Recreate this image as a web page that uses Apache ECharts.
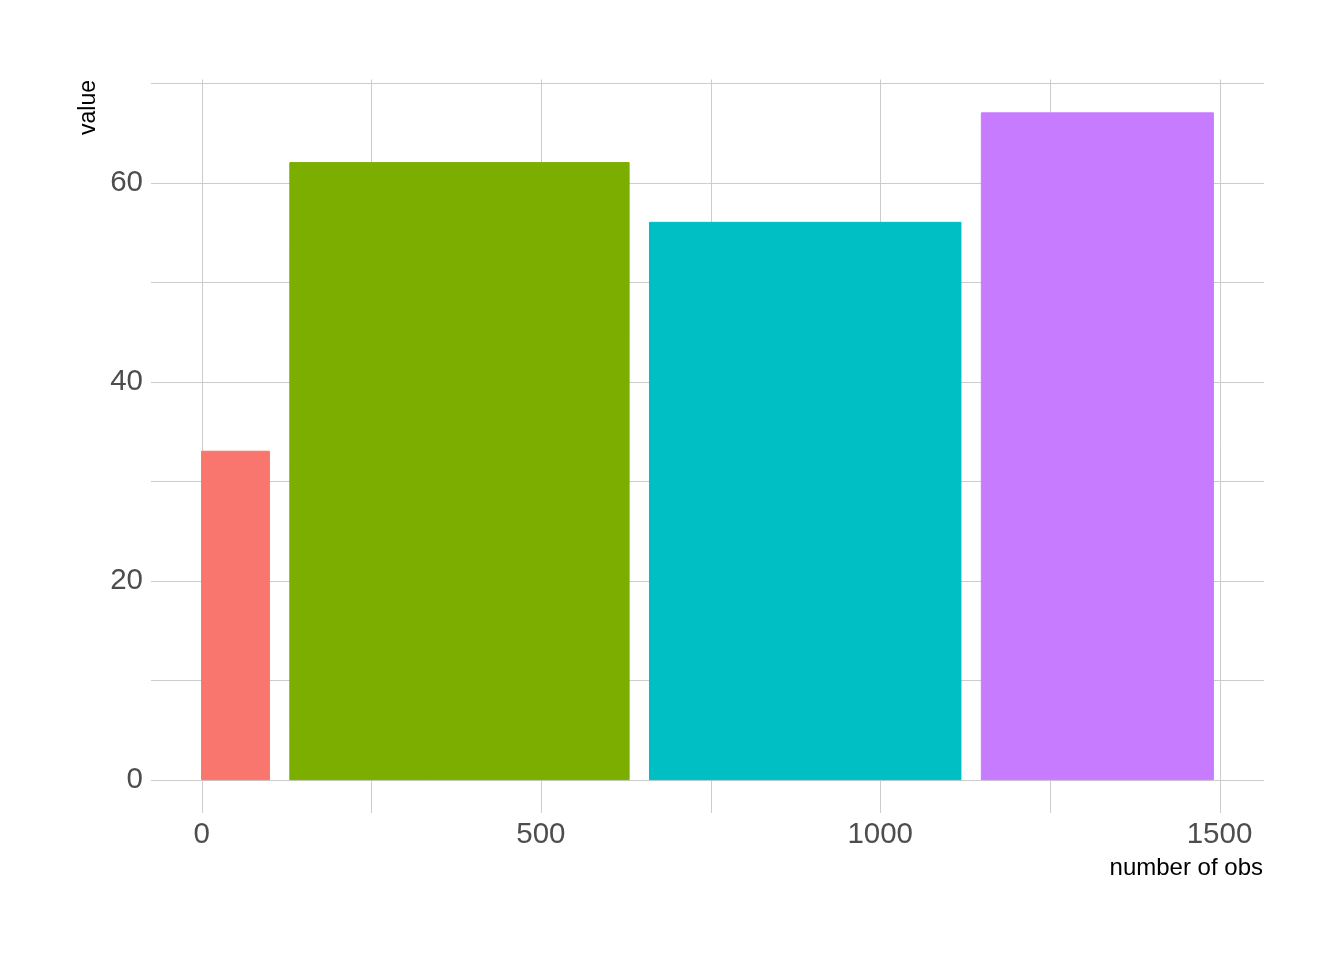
<!DOCTYPE html>
<html>
<head>
<meta charset="utf-8">
<script src="https://cdn.jsdelivr.net/npm/echarts@6/dist/echarts.min.js"></script>
<style>html,body{margin:0;padding:0;background:#fff;}#chart{width:1344px;height:960px;}</style>
</head>
<body>
<div id="chart"></div>
<script>
const groups = ['A', 'B', 'C', 'D'];
const values = [33, 62, 56, 67];
const numberOfObs = [100, 500, 459, 342];
const colors = ['#F8766D', '#7CAE00', '#00BFC4', '#C77CFF'];
const xTickLabels = [0, 500, 1000, 1500];
const xGrid = [0, 250, 500, 750, 1000, 1250, 1500];
const yTickLabels = [0, 20, 40, 60];
const yGrid = [0, 10, 20, 30, 40, 50, 60, 70];

// geometry as in ggplot example: right = cumsum(obs) + 30*(i), left = right - obs
const rights = [];
let acc = 0;
numberOfObs.forEach((n, i) => { acc += n; rights.push(acc + 30 * i); });
const lefts = rights.map((r, i) => r - numberOfObs[i]);
const barData = groups.map((g, i) => [lefts[i], rights[i], values[i], i]);

const xMin = 0, xMax = rights[rights.length - 1];
const xPad = (xMax - xMin) * 0.05;
const yMaxData = Math.max(...values);
const yPad = yMaxData * 0.05;

const gridData = xGrid.map(v => [v, 0]).concat(yGrid.map(v => [v, 1]));

const chart = echarts.init(document.getElementById('chart'));
chart.setOption({
  backgroundColor: '#fff',
  animation: false,
  grid: { left: 151, right: 80, top: 79.5, bottom: 147, containLabel: false },
  xAxis: {
    type: 'value', min: xMin - xPad, max: xMax + xPad,
    axisLine: { show: false }, axisTick: { show: false }, splitLine: { show: false },
    axisLabel: { customValues: xTickLabels, formatter: v => String(v), fontSize: 29.5, color: '#4d4d4d', fontFamily: 'Liberation Sans', margin: 7 }
  },
  yAxis: {
    type: 'value', min: -yPad, max: yMaxData + yPad,
    axisLine: { show: false }, axisTick: { show: false }, splitLine: { show: false },
    axisLabel: { customValues: yTickLabels, formatter: v => String(v), fontSize: 29.5, color: '#4d4d4d', fontFamily: 'Liberation Sans', margin: 8, padding: [3, 0, 0, 0] }
  },
  graphic: [
    { type: 'text', x: 100, y: 80, rotation: Math.PI / 2,
      style: { text: 'value', fontSize: 23, fontFamily: 'Liberation Sans', fill: '#000', textAlign: 'right', textVerticalAlign: 'bottom' } },
    { type: 'text', x: 1263, y: 868,
      style: { text: 'number of obs', fontSize: 24, fontFamily: 'Liberation Sans', fill: '#000', textAlign: 'right', textVerticalAlign: 'middle' } }
  ],
  series: [
    {
      type: 'custom', z: 1, silent: true,
      data: gridData,
      renderItem: function (params, api) {
        const cs = params.coordSys;
        const v = api.value(0);
        let shape;
        if (api.value(1) === 0) {
          const px = Math.round(api.coord([v, 0])[0]) + 0.5;
          shape = { x1: px, y1: cs.y, x2: px, y2: cs.y + cs.height };
        } else {
          const py = Math.round(api.coord([0, v])[1]) + 0.5;
          shape = { x1: cs.x, y1: py, x2: cs.x + cs.width, y2: py };
        }
        return { type: 'line', shape: shape, style: { stroke: '#cccccc', lineWidth: 1 } };
      }
    },
    {
      type: 'custom', z: 3,
      data: barData,
      encode: { x: [0, 1], y: 2 },
      renderItem: function (params, api) {
        const p0 = api.coord([api.value(0), 0]);
        const p1 = api.coord([api.value(1), api.value(2)]);
        const c = colors[api.value(3)];
        return {
          type: 'rect',
          shape: { x: p0[0], y: p1[1], width: p1[0] - p0[0], height: p0[1] - p1[1] },
          style: { fill: c, stroke: c, lineWidth: 1 }
        };
      }
    }
  ]
});
</script>
</body>
</html>
